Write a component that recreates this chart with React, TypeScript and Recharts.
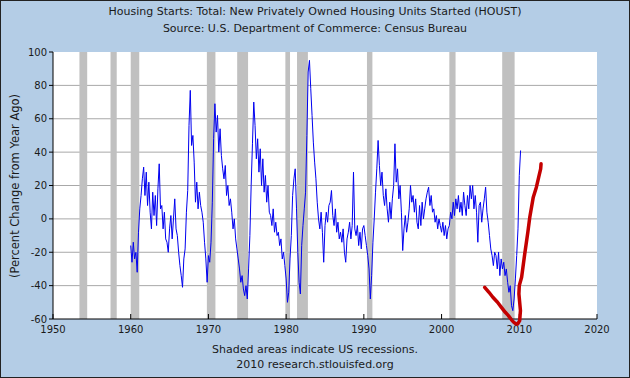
import {
  ComposedChart,
  LineChart,
  Line,
  XAxis,
  YAxis,
  CartesianGrid,
  ReferenceArea,
} from "recharts"

// Year-over-year % change, sampled every two months (6 per year), starting Jan 1960
const blue1960s = [
  -16, -26, -14, -24, -20, -32,
  -8, 6, 14, 24, 31, 14,
  28, 8, 22, 4, -6, 16,
  2, 14, -4, 18, 33, 6,
  8, -6, 4, -12, -14, -20,
  -6, 2, -12, 0, 12, -6,
  -10, -20, -28, -34, -41, -24,
  -18, 4, 17, 56, 77, 44,
  50, 34, 10, 22, 6, 16,
  8, 4, -2, -14, -24, -38,
]
const blue1970s = [
  -22, -26, -14, 10, 48, 69,
  52, 62, 40, 54, 38, 30,
  24, 32, 14, 20, 8, 12,
  4, -6, 0, -12, -18, -24,
  -30, -38, -34, -42, -46, -40,
  -48, -30, -10, 20, 45, 70,
  56, 36, 48, 28, 42, 20,
  36, 16, 26, 10, 20, 4,
  2, -4, 6, -8, -2, -10,
  -8, -16, -12, -24, -20, -28,
]
const blue1980s = [
  -36, -50, -44, -24, -10, 14,
  24, 30, 6, -20, -38, -45,
  -16, -4, 6, 16, 50, 88,
  95, 78, 62, 46, 34, 24,
  10, 0, -6, 4, -8, -26,
  -4, 4, -2, 8, 10, 17,
  2, -4, 6, -8, -2, -12,
  -8, -14, -6, -20, -26, -12,
  -8, -2, -12, -4, 28, -6,
  -10, -4, -16, -8, -18, -6,
]
const blue1990s = [
  -4, -10, -16, -22, -30, -48,
  -34, -14, 0, 16, 30, 47,
  32, 20, 28, 14, 8, 18,
  6, -2, 10, 0, 12, 20,
  45, 22, 30, 12, 20, 4,
  -19, -6, 2, -8, -2, 6,
  20, 10, 14, 4, 12, -2,
  -6, 8, -4, 10, 0, 6,
  12, 16, 19, 8, 14, 4,
  6, -2, 2, -6, 0, -4,
]
const blue2000s = [
  -8, -2, -10, -4, -12, -6,
  -4, 4, 0, 10, 2, 12,
  6, 14, 4, 10, 2, 16,
  8, 2, 14, 6, 20, 12,
  20, 6, 14, 4, -14, 8,
  10, -2, 6, 12, 19, 4,
  -2, -10, -18, -22, -28, -20,
  -22, -30, -20, -34, -24, -30,
  -26, -34, -30, -38, -44, -40,
  -52, -55, -48, -36, -22, -6,
  26, 41,
]

// hand-drawn red projection
const redYears = [
  2005.55, 2006.1, 2006.6, 2007.2, 2007.7, 2008.2, 2008.6, 2009.0, 2009.3, 2009.6,
  2009.8, 2010.05, 2010.15, 2009.95, 2010.0, 2010.3, 2010.7, 2011.1, 2011.35, 2011.8,
  2012.2, 2012.5, 2012.75, 2012.8,
]
const redValues = [
  -41, -44, -47, -50, -53, -56, -58, -60.5, -62, -63,
  -63, -61, -55, -45, -40, -35, -21, -8, 1, 13,
  19, 25, 30, 33,
]

const recessionStart = [1953.4, 1957.4, 1960.0, 1969.8, 1973.7, 1979.9, 1981.4, 1990.4, 2001.0, 2007.8]
const recessionEnd = [1954.4, 1958.2, 1961.1, 1970.9, 1975.1, 1980.5, 1982.8, 1991.1, 2001.8, 2009.4]

const xTicks = [1950, 1960, 1970, 1980, 1990, 2000, 2010, 2020]
const yTicks = [-60, -40, -20, 0, 20, 40, 60, 80, 100]

const blueValues = [...blue1960s, ...blue1970s, ...blue1980s, ...blue1990s, ...blue2000s]
const blueData = blueValues.map((v, i) => ({ year: 1960 + i / 6, v }))
const redData = redYears.map((year, i) => ({ year, r: redValues[i] }))

const font = "DejaVu Sans, Verdana, sans-serif"
const tickStyle = { fill: "#1a1a1a", fontSize: 10, fontFamily: font }

export default function App() {
  return (
    <div
      style={{
        position: "absolute",
        left: 0,
        top: 0,
        width: 630,
        height: 378,
        background: "#b4cde6",
        border: "1px solid #222",
        boxSizing: "border-box",
        fontFamily: font,
        color: "#1a1a1a",
      }}
    >
      <div style={{ position: "absolute", left: -1, top: -1, width: 630, height: 378 }}>
        <ComposedChart width={630} height={378} data={blueData} margin={{ top: 52, right: 33, bottom: 29, left: 0 }}>
          <CartesianGrid
            vertical={false}
            horizontalValues={[-40, -20, 0, 20, 40, 60, 80]}
            stroke="#a8a8a8"
            fill="#ffffff"
            fillOpacity={1}
          />
          <XAxis
            dataKey="year"
            type="number"
            domain={[1950, 2020]}
            ticks={xTicks}
            height={30}
            tickSize={-5}
            tickMargin={12}
            axisLine={{ stroke: "#000" }}
            tickLine={{ stroke: "#000" }}
            tick={tickStyle}
          />
          <YAxis
            type="number"
            domain={[-60, 100]}
            ticks={yTicks}
            width={53}
            tickSize={4}
            tickMargin={2}
            axisLine={{ stroke: "#000" }}
            tickLine={{ stroke: "#000" }}
            tick={tickStyle}
          />
          {recessionStart.map((s, i) => (
            <ReferenceArea
              key={s}
              x1={s}
              x2={recessionEnd[i]}
              y1={-60}
              y2={100}
              fill="#c0c0c0"
              fillOpacity={1}
              stroke="none"
            />
          ))}
          <Line
            dataKey="v"
            type="linear"
            stroke="#0000f0"
            strokeWidth={1}
            dot={false}
            isAnimationActive={false}
          />
        </ComposedChart>
      </div>

      {/* red hand-drawn line, own plot so it can dip below the axis */}
      <div style={{ position: "absolute", left: -1, top: -1, width: 630, height: 378, pointerEvents: "none" }}>
        <LineChart width={630} height={378} data={redData} margin={{ top: 52, right: 33, bottom: 49, left: 53 }}>
          <XAxis dataKey="year" type="number" domain={[1950, 2020]} allowDataOverflow hide />
          <YAxis type="number" domain={[-66, 100]} allowDataOverflow hide />
          <Line
            dataKey="r"
            type="linear"
            stroke="#c40000"
            strokeWidth={3.5}
            strokeLinejoin="round"
            strokeLinecap="round"
            dot={false}
            isAnimationActive={false}
          />
        </LineChart>
      </div>

      <div
        style={{
          position: "absolute",
          left: -1,
          top: 3,
          width: 630,
          textAlign: "center",
          fontSize: 11,
          lineHeight: "16.5px",
        }}
      >
        <div>Housing Starts: Total: New Privately Owned Housing Units Started (HOUST)</div>
        <div>Source: U.S. Department of Commerce: Census Bureau</div>
      </div>

      <div
        style={{
          position: "absolute",
          left: 14 - 150,
          top: 185 - 8,
          width: 300,
          height: 16,
          lineHeight: "16px",
          textAlign: "center",
          fontSize: 11.5,
          transform: "rotate(-90deg)",
        }}
      >
        (Percent Change from Year Ago)
      </div>

      <div
        style={{
          position: "absolute",
          left: -1,
          top: 342,
          width: 630,
          textAlign: "center",
          fontSize: 11,
          lineHeight: "14.5px",
        }}
      >
        <div>Shaded areas indicate US recessions.</div>
        <div>2010 research.stlouisfed.org</div>
      </div>
    </div>
  )
}
